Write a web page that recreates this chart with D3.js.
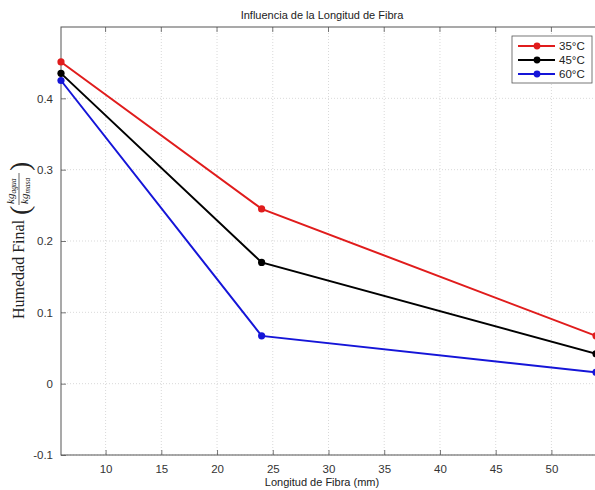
<!DOCTYPE html>
<html><head><meta charset="utf-8">
<script src="https://cdn.jsdelivr.net/npm/d3@7"></script>
<style>body{margin:0;background:#fff}svg{display:block}</style>
</head><body>
<svg id="c" width="595" height="490"></svg>
<script>
const fiberLength = [6, 24, 54];
const seriesNames = ["35°C", "45°C", "60°C"];
const seriesColors = ["#e01c1c", "#000000", "#1515d8"];
const values35 = [0.451, 0.245, 0.067];
const values45 = [0.435, 0.170, 0.042];
const values60 = [0.425, 0.067, 0.016];
const xTicks = [10, 15, 20, 25, 30, 35, 40, 45, 50];
const yTicks = [-0.1, 0, 0.1, 0.2, 0.3, 0.4];
const yTickLabels = ["-0.1", "0", "0.1", "0.2", "0.3", "0.4"];
const titleText = "Influencia de la Longitud de Fibra";
const xLabel = "Longitud de Fibra (mm)";

const series = [values35, values45, values60];
const svg = d3.select("#c");
const L = 61, R = 596, T = 27, B = 455;
const x = d3.scaleLinear().domain([6, 54]).range([L, R]);
const y = d3.scaleLinear().domain([-0.1, 0.5]).range([B, T]);
const font = "Liberation Sans, Arial, sans-serif";

// grid
svg.append("g").selectAll("line").data(xTicks).join("line")
  .attr("x1", d => x(d)).attr("x2", d => x(d)).attr("y1", T).attr("y2", B)
  .attr("stroke", "#cfcfcf").attr("stroke-width", 0.8).attr("stroke-dasharray", "1,2");
svg.append("g").selectAll("line").data(yTicks).join("line")
  .attr("x1", L).attr("x2", R).attr("y1", d => y(d)).attr("y2", d => y(d))
  .attr("stroke", "#cfcfcf").attr("stroke-width", 0.8).attr("stroke-dasharray", "1,2");

// axes
const xAxis = d3.axisBottom(x).tickValues(xTicks).tickSizeInner(-5).tickSizeOuter(0).tickPadding(10).tickFormat(d3.format("d"));
const yAxis = d3.axisLeft(y).tickValues(yTicks).tickSizeInner(-5).tickSizeOuter(0).tickPadding(8)
  .tickFormat((d, i) => yTickLabels[i]);
const gx = svg.append("g").attr("transform", `translate(0,${B})`).call(xAxis);
const gy = svg.append("g").attr("transform", `translate(${L},0)`).call(yAxis);
[gx, gy].forEach(g => {
  g.select(".domain").remove();
  g.selectAll(".tick line").attr("stroke", "#555").attr("stroke-width", 0.8);
  g.selectAll(".tick text").attr("font-family", font).attr("font-size", 11.5).attr("fill", "#333");
});
// top ticks
svg.append("g").selectAll("line").data(xTicks).join("line")
  .attr("x1", d => x(d)).attr("x2", d => x(d)).attr("y1", T).attr("y2", T + 5)
  .attr("stroke", "#555").attr("stroke-width", 0.8);
// box
svg.append("rect").attr("x", L).attr("y", T).attr("width", R - L).attr("height", B - T)
  .attr("fill", "none").attr("stroke", "#555").attr("stroke-width", 1);

// lines
const line = d3.line().x((d, i) => x(fiberLength[i])).y(d => y(d));
series.forEach((s, k) => {
  svg.append("path").datum(s).attr("d", line).attr("fill", "none")
    .attr("stroke", seriesColors[k]).attr("stroke-width", 2);
  svg.append("g").selectAll("circle").data(s).join("circle")
    .attr("cx", (d, i) => x(fiberLength[i])).attr("cy", d => y(d)).attr("r", 3.6)
    .attr("fill", seriesColors[k]);
});

// title
svg.append("text").attr("x", 322).attr("y", 19).attr("text-anchor", "middle")
  .attr("font-family", font).attr("font-size", 11).attr("fill", "#222").text(titleText);
// x label
svg.append("text").attr("x", 322).attr("y", 486).attr("text-anchor", "middle")
  .attr("font-family", font).attr("font-size", 11).attr("fill", "#222").text(xLabel);

// y label (rotated)
const serif = "Liberation Serif, Times New Roman, serif";
const yl = svg.append("g").attr("transform", "translate(24,319) rotate(-90)");
yl.append("text").attr("x", 0).attr("y", 0).attr("font-family", serif)
  .attr("font-size", 16).attr("fill", "#222").text("Humedad Final");
const fx = 104;
yl.append("text").attr("x", fx).attr("y", 5).attr("font-family", serif)
  .attr("font-size", 28).attr("fill", "#222").text("(");
const fr = yl.append("g").attr("transform", `translate(${fx + 10},0)`);
const num = fr.append("text").attr("x", 1).attr("y", -10).attr("font-family", serif)
  .attr("font-size", 11).attr("font-style", "italic").attr("fill", "#222");
num.append("tspan").text("kg");
num.append("tspan").attr("dy", 2).attr("font-size", 7.5).text("agua");
fr.append("line").attr("x1", 0).attr("x2", 32).attr("y1", -5).attr("y2", -5).attr("stroke", "#222").attr("stroke-width", 0.7);
const den = fr.append("text").attr("x", 1).attr("y", 4).attr("font-family", serif)
  .attr("font-size", 11).attr("font-style", "italic").attr("fill", "#222");
den.append("tspan").text("kg");
den.append("tspan").attr("dy", 2).attr("font-size", 7.5).text("masa");
yl.append("text").attr("x", fx + 44).attr("y", 5).attr("font-family", serif)
  .attr("font-size", 28).attr("fill", "#222").text(")");

// legend
const lg = svg.append("g");
lg.append("rect").attr("x", 512).attr("y", 36).attr("width", 80).attr("height", 47)
  .attr("fill", "#fff").attr("stroke", "#555").attr("stroke-width", 0.8);
seriesNames.forEach((n, k) => {
  const yy = 46 + k * 14;
  lg.append("line").attr("x1", 518).attr("x2", 555).attr("y1", yy).attr("y2", yy)
    .attr("stroke", seriesColors[k]).attr("stroke-width", 2);
  lg.append("circle").attr("cx", 537).attr("cy", yy).attr("r", 3.4).attr("fill", seriesColors[k]);
  lg.append("text").attr("x", 559).attr("y", yy + 4).attr("font-family", font)
    .attr("font-size", 11.5).attr("fill", "#222").text(n);
});
</script>
</body></html>
